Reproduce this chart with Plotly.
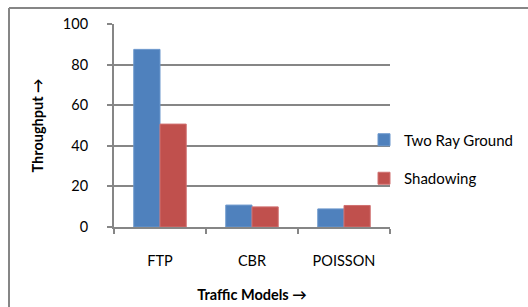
import plotly.graph_objects as go

categories = ["FTP", "CBR", "POISSON"]
two_ray_ground = [87.5, 10.8, 8.9]
shadowing = [50.7, 9.9, 10.6]
y_ticks = [0, 20, 40, 60, 80, 100]

FONT = "Lato, Open Sans, sans-serif"
GRAY = "#868686"

fig = go.Figure()
fig.add_trace(go.Bar(name="Two Ray Ground", x=categories, y=two_ray_ground, legendgroup="a",
                     marker=dict(color="#4F81BD", line=dict(color="#6A96CC", width=1))))
fig.add_trace(go.Bar(name="Shadowing", x=categories, y=shadowing, legendgroup="b",
                     marker=dict(color="#C0504D", line=dict(color="#D07070", width=1))))

W, H = 528, 307
L, R, T, B = 114, 390, 24, 227
pw, ph = R - L, B - T
fig.update_layout(
    width=W, height=H,
    margin=dict(l=L, r=W - R, t=T, b=H - B, autoexpand=False),
    paper_bgcolor="white", plot_bgcolor="white",
    barmode="group", bargap=0.43, bargroupgap=0,
    font=dict(family=FONT, size=14.5, color="#000000"),
    showlegend=True,
    legend=dict(x=(364 - L) / pw, xanchor="left", y=(B - 159) / ph, yanchor="middle",
                font=dict(size=15), itemwidth=30, tracegroupgap=16,
                bgcolor="rgba(0,0,0,0)"),
    xaxis=dict(showgrid=False, showline=True, linecolor=GRAY, linewidth=2, automargin=False,
               ticks="outside", tickson="boundaries", ticklen=5, tickcolor=GRAY, tickwidth=2,
               ticklabelstandoff=20,
               title=dict(text="<b>Traffic Models →</b>", font=dict(size=14.5), standoff=21)),
    yaxis=dict(range=[0, 100], tickvals=y_ticks, showgrid=True, gridcolor=GRAY, gridwidth=1.5,
               showline=True, linecolor=GRAY, linewidth=2, zeroline=False, automargin=False,
               ticks="outside", ticklen=5, tickcolor=GRAY, tickwidth=1.5,
               ticklabelstandoff=16,
               title=dict(text="<b>Throughput →</b>", font=dict(size=14.5), standoff=16)),
)

# outer chart border: left and top edges (right/bottom lie outside the window)
fig.add_shape(type="line", xref="paper", yref="paper",
              x0=(9 - L) / pw, x1=(9 - L) / pw, y0=(B - (H + 20)) / ph, y1=(B - 8) / ph,
              line=dict(color=GRAY, width=2), layer="above")
fig.add_shape(type="line", xref="paper", yref="paper",
              x0=(9 - L) / pw, x1=(W + 20 - L) / pw, y0=(B - 8) / ph, y1=(B - 8) / ph,
              line=dict(color=GRAY, width=2), layer="above")

fig.write_html("out.html", config={"displayModeBar": False},
               post_script="document.body.style.margin='0';")
